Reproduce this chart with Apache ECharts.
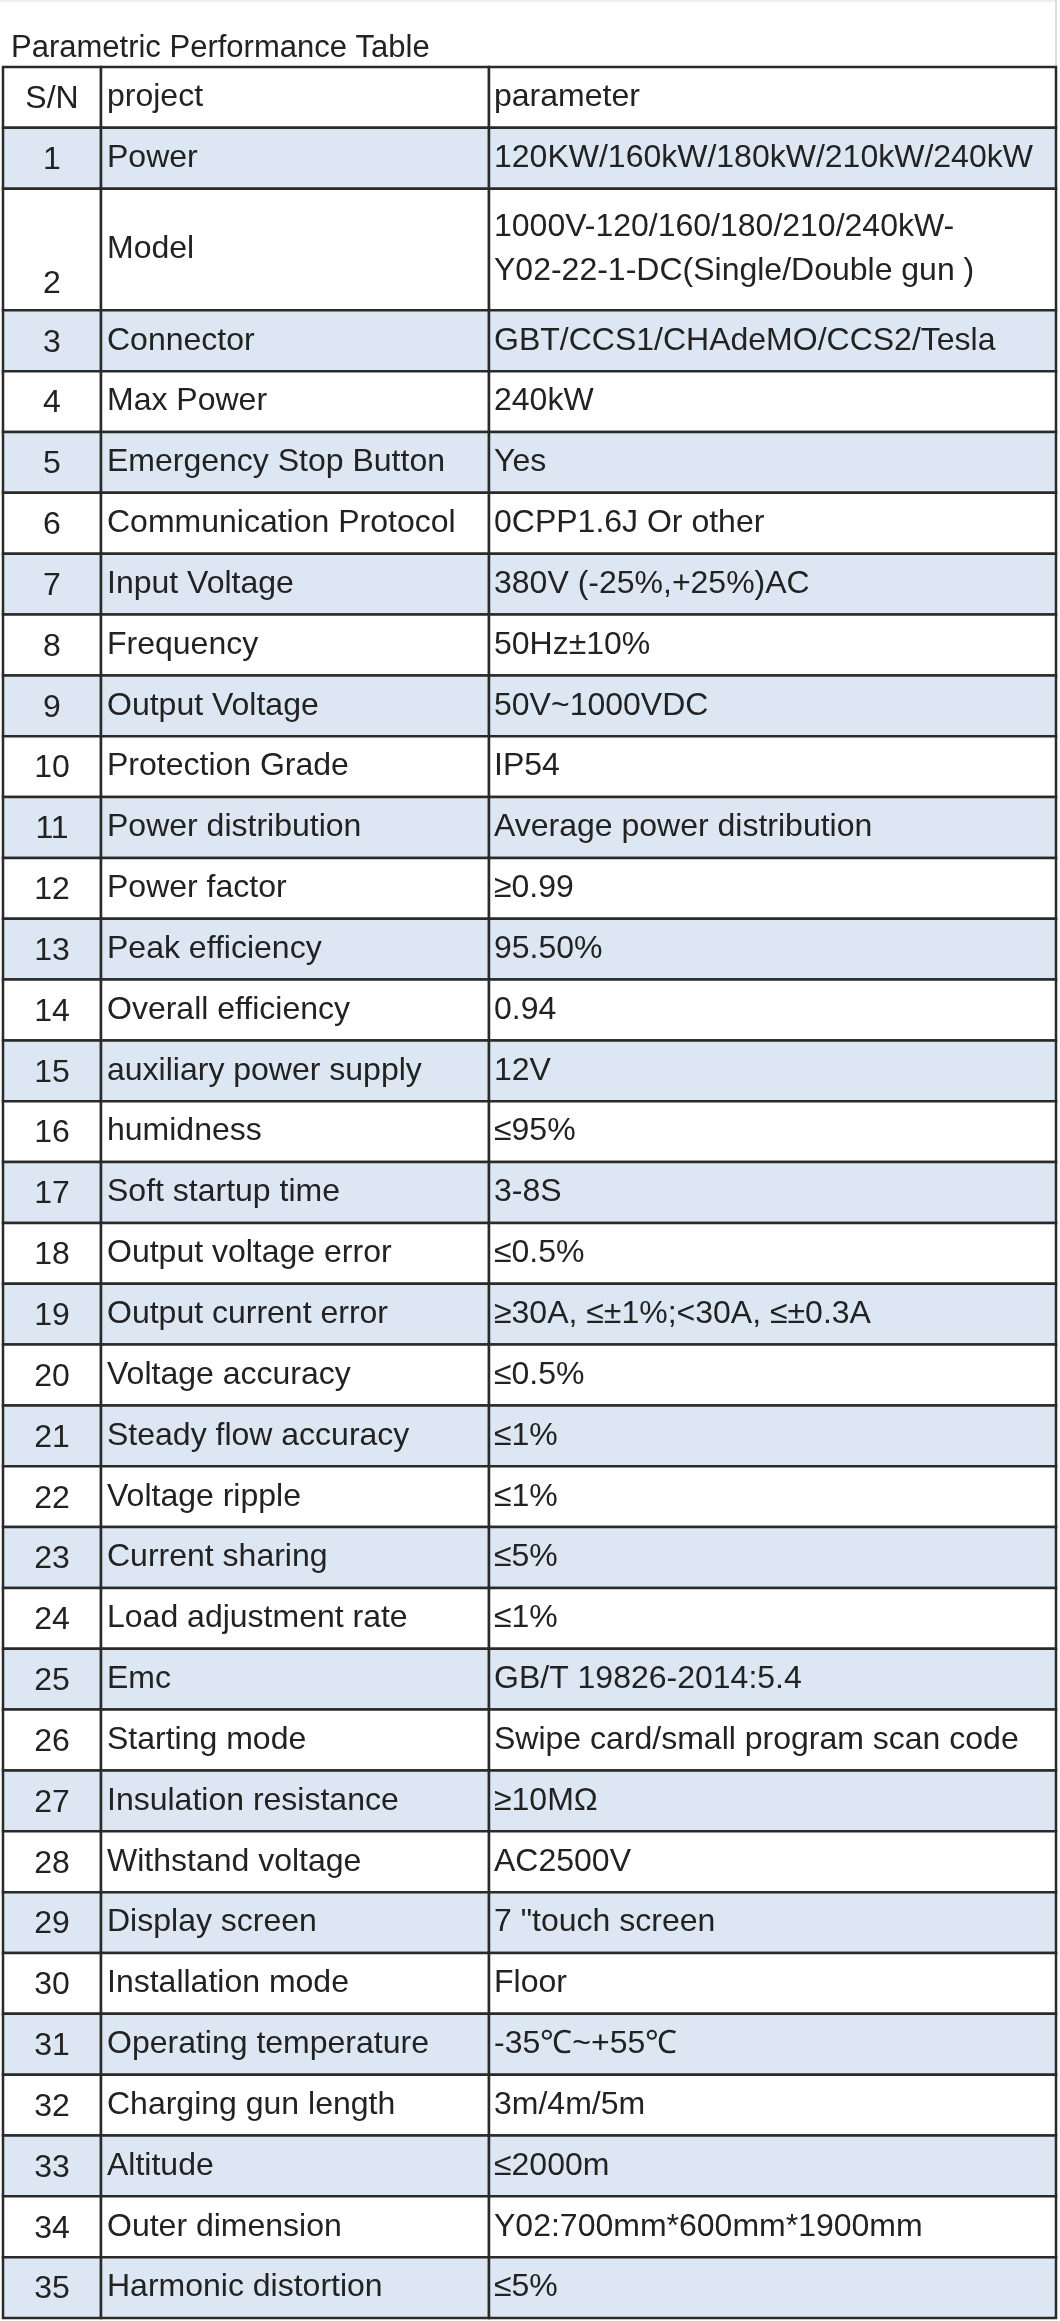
<!DOCTYPE html>
<html><head><meta charset="utf-8">
<script src="https://cdn.jsdelivr.net/npm/echarts@6/dist/echarts.min.js"></script>
<style>html,body{margin:0;padding:0;background:#fff}#c{width:1060px;height:2321px}</style>
</head><body><div id="c"></div>
<script>
const headers = ['S/N', 'project', 'parameter'];
const serialNumbers = ['1','2','3','4','5','6','7','8','9','10','11','12','13','14','15','16','17','18','19','20','21','22','23','24','25','26','27','28','29','30','31','32','33','34','35'];
const projects = ['Power','Model','Connector','Max Power','Emergency Stop Button','Communication Protocol','Input Voltage','Frequency','Output Voltage','Protection Grade','Power distribution','Power factor','Peak efficiency','Overall efficiency','auxiliary power supply','humidness','Soft startup time','Output voltage error','Output current error','Voltage accuracy','Steady flow accuracy','Voltage ripple','Current sharing','Load adjustment rate','Emc','Starting mode','Insulation resistance','Withstand voltage','Display screen','Installation mode','Operating temperature','Charging gun length','Altitude','Outer dimension','Harmonic distortion'];
const parameters = ['120KW/160kW/180kW/210kW/240kW','1000V-120/160/180/210/240kW-\nY02-22-1-DC(Single/Double gun )','GBT/CCS1/CHAdeMO/CCS2/Tesla','240kW','Yes','0CPP1.6J Or other','380V (-25%,+25%)AC','50Hz±10%','50V~1000VDC','IP54','Average power distribution','≥0.99','95.50%','0.94','12V','≤95%','3-8S','≤0.5%','≥30A, ≤±1%;<30A, ≤±0.3A','≤0.5%','≤1%','≤1%','≤5%','≤1%','GB/T 19826-2014:5.4','Swipe card/small program scan code','≥10MΩ','AC2500V','7 "touch screen','Floor','-35℃~+55℃','3m/4m/5m','≤2000m','Y02:700mm*600mm*1900mm','≤5%'];
const rowSpans = [1,2,1,1,1,1,1,1,1,1,1,1,1,1,1,1,1,1,1,1,1,1,1,1,1,1,1,1,1,1,1,1,1,1,1];

const rows = [];
rows.push({sn: headers[0], pj: headers[1], pa: headers[2], start: 0, span: 1, shade: false});
let start = 1;
for (let i = 0; i < projects.length; i++) {
  const sp = rowSpans[i];
  rows.push({sn: serialNumbers[i], pj: projects[i], pa: parameters[i], start: start, span: sp, shade: i % 2 === 0, tall: sp > 1});
  start += sp;
}
const totalUnits = start;
const colEdges = [0, 98, 486, 1053];
const font = '32px "Liberation Sans", Arial, sans-serif';
const chart = echarts.init(document.getElementById('c'), null, {renderer: 'canvas'});
chart.setOption({
  animation: false,
  title: {text: 'Parametric Performance Table', left: 6, top: 28,
    textStyle: {fontSize: 31, fontWeight: 'normal', color: '#222', fontFamily: '"Liberation Sans", Arial, sans-serif'}},
  grid: {left: 3, right: 4, top: 67, bottom: 3},
  xAxis: {type: 'value', min: 0, max: 1053, show: false},
  yAxis: {type: 'value', min: 0, max: totalUnits, inverse: true, show: false},
  series: [{
    type: 'custom',
    data: rows.map((r, i) => [i]),
    renderItem: function (params, api) {
      const r = rows[api.value(0)];
      const y0 = api.coord([0, r.start])[1];
      const y1 = api.coord([0, r.start + r.span])[1];
      const xs = colEdges.map(v => api.coord([v, 0])[0]);
      const children = [];
      const fill = r.shade ? '#dce7f3' : '#ffffff';
      for (let c = 0; c < 3; c++) {
        children.push({type: 'rect', shape: {x: xs[c], y: y0, width: xs[c+1]-xs[c], height: y1-y0},
          style: {fill: fill, stroke: '#2a2a2a', lineWidth: 2.5}});
      }
      const ym = (y0 + y1) / 2;
      children.push({type: 'text', style: {text: r.sn, x: (xs[0]+xs[1])/2, y: r.tall ? y1 - 26 : ym + 2,
        align: 'center', verticalAlign: 'middle', font: font, fill: '#222'}});
      children.push({type: 'text', style: {text: r.pj, x: xs[1] + 6, y: ym, align: 'left', verticalAlign: 'middle', font: font, fill: '#222'}});
      children.push({type: 'text', style: {text: r.pa, x: xs[2] + 5, y: ym, align: 'left', verticalAlign: 'middle', font: font, fill: '#222', lineHeight: 44}});
      return {type: 'group', children: children};
    }
  }],
  graphic: [{type: 'line', shape: {x1: 1056, y1: 0, x2: 1056, y2: 67}, style: {stroke: '#bbb', lineWidth: 1}},
            {type: 'line', shape: {x1: 0, y1: 1, x2: 1056, y2: 1}, style: {stroke: '#ddd', lineWidth: 1}}]
});
</script></body></html>
